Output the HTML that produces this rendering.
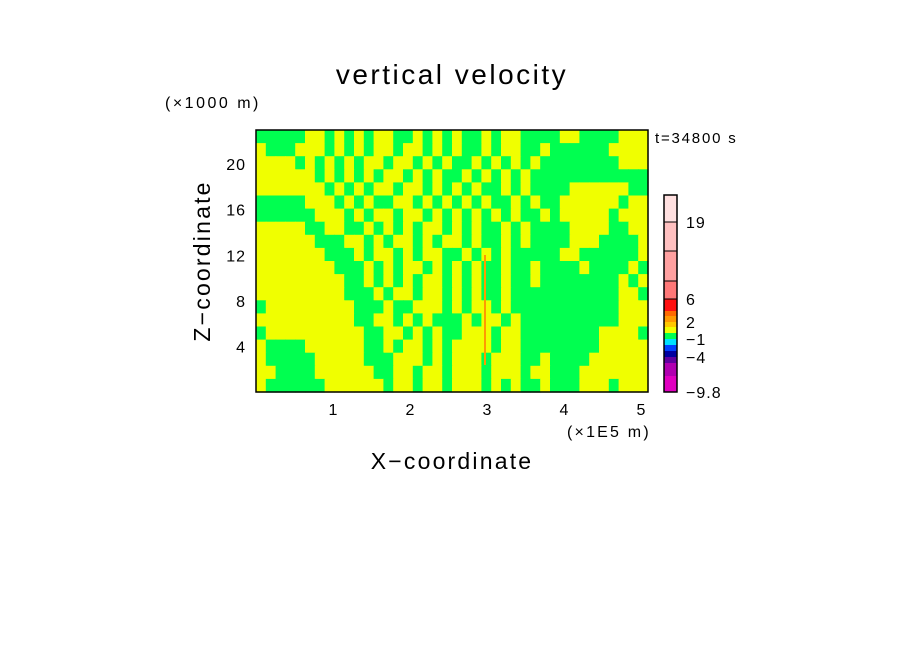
<!DOCTYPE html>
<html><head><meta charset="utf-8"><style>
body{margin:0;background:#fff;width:904px;height:654px;overflow:hidden}
svg text{font-family:"Liberation Sans",sans-serif;fill:#000}
</style></head><body>
<svg id="chart" width="904" height="654" viewBox="0 0 904 654" xmlns="http://www.w3.org/2000/svg">
<text x="452" y="84" font-size="28" text-anchor="middle" letter-spacing="2.5">vertical velocity</text>
<text x="165" y="108" font-size="16" letter-spacing="2.5">(×1000 m)</text>
<text x="655" y="143" font-size="15" letter-spacing="1.8">t=34800 s</text>
<text x="567" y="437" font-size="16" letter-spacing="2.2">(×1E5 m)</text>
<text x="452" y="469" font-size="23" text-anchor="middle" letter-spacing="2.2">X−coordinate</text>
<text x="0" y="0" font-size="23" text-anchor="middle" letter-spacing="2.2" transform="translate(210,261) rotate(-90)">Z−coordinate</text>
<g id="field"></g>
<rect x="256" y="130" width="392" height="262" fill="none" stroke="#000" stroke-width="1.5"/>
<g id="xticks"></g>
<g id="yticks"></g>
<g id="cbar"></g>
</svg>
<script>
const xTicks=[1,2,3,4,5];
const yTicks=[4,8,12,16,20];
const cbarBounds=[-9.8,-7,-5.5,-4,-3,-2,-1,0,1,2,3,4,6,10,14,19,22];
const cbarColors=["#e000c0","#b000b0","#6000a0","#0000a0","#0040ff","#00e0ff","#00ff50","#f0ff00","#ffc800","#ff9900","#ff6a00","#ff1010","#ff7878","#ffa0a0","#ffc0c0","#ffe0e0"];
const cbarLabels=["-9.8","-4","-1","2","6","19"];
const cbarLabelVals=[-9.8,-4,-1,2,6,19];
const fieldRows=[
"gggggyygygygyyggygygyggygyyggggyyggggyyy",
"ygggyyygygygyygyygygyggygyyggyggggggyyyy",
"yyyygygygygyygyygygyggygygygyggggggggyyy",
"yyyyyygygygygyygygyggygygygyggggggggggggg",
"yyyyyyygygygyygyygygygyggygyggggyyyyyyggg",
"gggggyyygygyggyygygygygyggygyggyyyyyygyy",
"ggggggyyygygyygyygygygygygyggygyyyyygyyy",
"yyyyyggyyggygygygyygygyggygyggggyyyyggyyg",
"yyyyyygggyygygyygygyygyggygyggggyyyggggyg",
"yyyyyyygggygyygygyyggygygygggggyyggggggy",
"yyyyyyyygggygygyygygygyggyggyggggyggggygg",
"yyyyyyyyyggygygygyygygyggyggyggggggggygy",
"yyyyyyyyygggygyygyygygyggygggggggggggyygy",
"gyyyyyyyyygggyggyyygygyygygggggggggggyyyy",
"yyyyyyyyyyggyygygygggygyygyggggggggggyyyyy",
"gyyyyyyyyyyggyygygyggyyygyyggggggggyyyygy",
"yggggyyyyyyggygyygygyyyygyyggggggggyyyyyyy",
"ygggggyyyyygggyyygygyyygyyyggyggggyyyyyy",
"yyggggyyyyyyggyygyygyyygyyygyygggyyyyyyy",
"yggggggyyyyyygyygyygyyygygyggygggyyygyyy"];
const NS="http://www.w3.org/2000/svg";
const X0=256,X1=648,Y0=130,Y1=392,YMAX=23.0;
const sx=v=>X0+v*77, sy=v=>Y1-v*(262/YMAX);
function mk(tag,attrs,parent){const e=document.createElementNS(NS,tag);for(const k in attrs)e.setAttribute(k,attrs[k]);parent.appendChild(e);return e;}
const field=document.getElementById('field');
const nr=fieldRows.length;
fieldRows.forEach((row,r)=>{
  const cols=40,cw=(X1-X0)/cols,rh=(Y1-Y0)/nr;
  for(let c=0;c<cols;c++){
    const ch=row[c]||'g';
    const cell=mk('rect',{x:(X0+c*cw).toFixed(2),y:(Y0+r*rh).toFixed(2),width:(cw+0.6).toFixed(2),height:(rh+0.6).toFixed(2),fill:ch==='y'?'#f0ff00':'#00ff50'},field);
    
    
  }
});
const streak=mk('rect',{x:484,y:255,width:2,height:110,fill:'#ff9900'},field);


const xt=document.getElementById('xticks');
xTicks.forEach(v=>{
  const t=mk('text',{x:sx(v),y:415,'font-size':16,'text-anchor':'middle'},xt);t.textContent=v;
  
  
});
const yt=document.getElementById('yticks');
yTicks.forEach(v=>{
  const t=mk('text',{x:246,y:sy(v)+6,'font-size':16,'text-anchor':'end','letter-spacing':1},yt);t.textContent=v;
  
  
});
const cbPos=[392,376,363,357,351,345,339,333,327,322,316,311,299,281,251,222,195];
const cb=document.getElementById('cbar');
cbarColors.forEach((col,i)=>{
  const yb=cbPos[i],ytp=cbPos[i+1];
  const s=mk('rect',{x:664,y:ytp,width:13,height:yb-ytp,fill:col,stroke:(i>=12?'#000':'none'),'stroke-width':1},cb);
  
  
});
const fr=mk('rect',{x:664,y:195,width:13,height:197,fill:'none',stroke:'#000','stroke-width':1.5},cb);


cbarLabelVals.forEach((v,i)=>{
  const idx=cbarBounds.indexOf(v);
  const y=idx>=0?cbPos[idx]:(v===19?222:392);
  const t=mk('text',{x:686,y:y+6,'font-size':16,'letter-spacing':1},cb);t.textContent=cbarLabels[i].replace('-','−');
  
  
});
</script>
</body></html>
